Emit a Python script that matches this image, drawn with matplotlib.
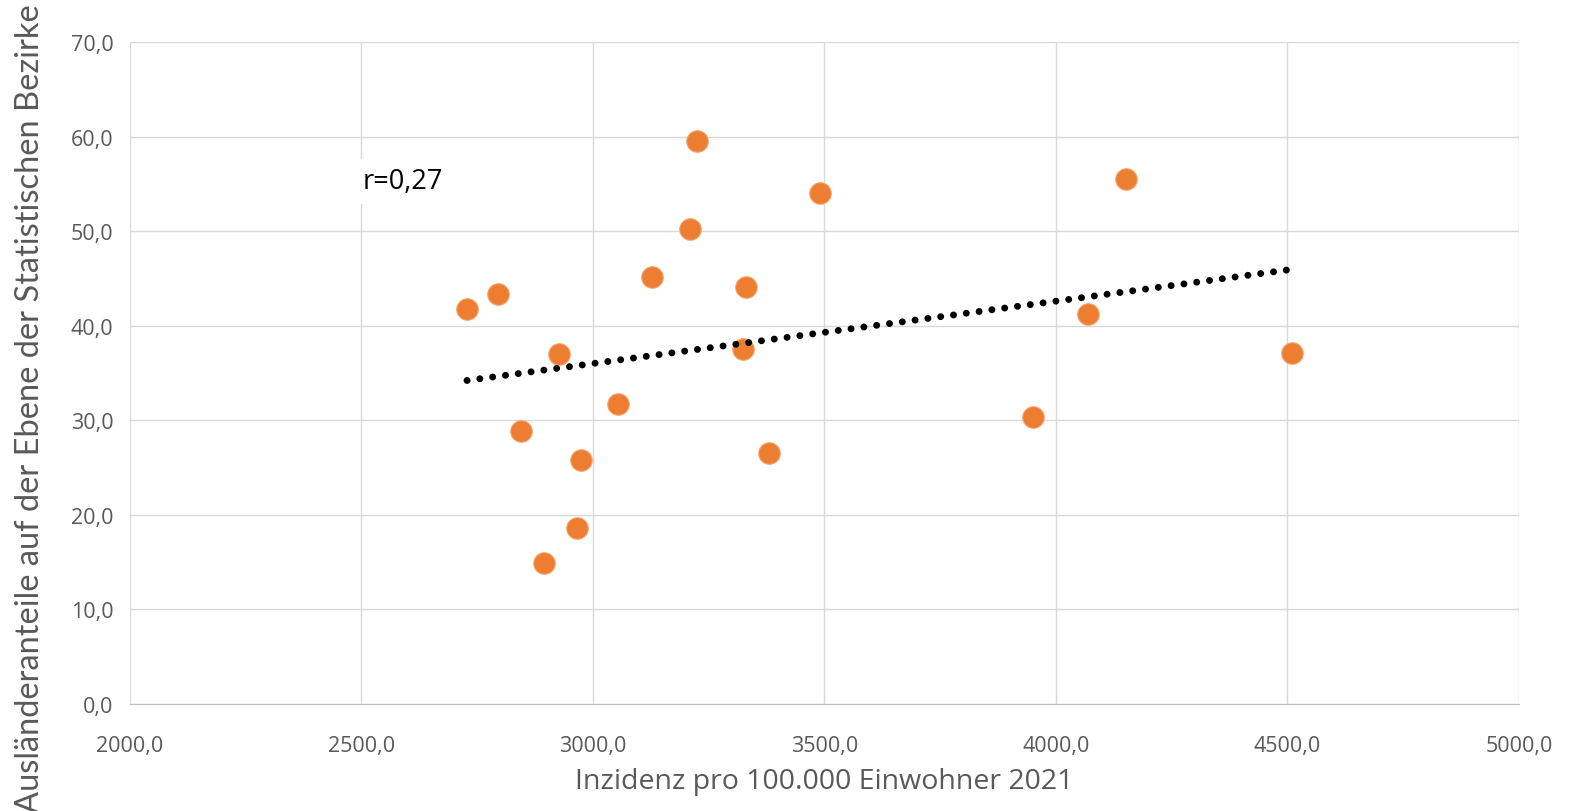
import numpy as np
import matplotlib.pyplot as plt

# Inzidenz pro 100.000 Einwohner 2021 vs. Ausländeranteil (Statistische Bezirke)
inzidenz = [2728, 2796, 2844, 2895, 2926, 2966, 2974, 3054, 3128, 3210,
            3224, 3323, 3331, 3380, 3491, 3950, 4069, 4152, 4509]
auslaender = [41.8, 43.4, 28.9, 14.9, 37.0, 18.6, 25.8, 31.7, 45.2, 50.2,
              59.6, 37.5, 44.1, 26.5, 54.0, 30.4, 41.3, 55.5, 37.1]

xticks = [2000, 2500, 3000, 3500, 4000, 4500, 5000]
yticks = [0, 10, 20, 30, 40, 50, 60, 70]

orange = '#ED7D31'
grid_col = '#D9D9D9'
tick_col = '#595959'

plt.rcParams['font.family'] = ['Open Sans', 'DejaVu Sans']

fig = plt.figure(figsize=(15.77, 8.12), dpi=100)
ax = fig.add_axes([0.0824, 0.1318, 0.8808, 0.815])

ax.scatter(inzidenz, auslaender, s=240, color=orange, edgecolors='#F4A470',
           linewidths=0.8, zorder=3)

# lineare Trendlinie
k, d = np.polyfit(inzidenz, auslaender, 1)
tx = np.array([min(inzidenz), max(inzidenz)])
ax.plot(tx, k*tx + d, color='black', lw=5, linestyle=(0, (0.01, 1.85)),
        dash_capstyle='round', zorder=4)

ax.text(2503, 55.3, 'r=0,27', fontsize=19.5, color='black', va='center', ha='left',
        bbox=dict(facecolor='white', edgecolor='none', pad=6), zorder=2)

ax.set_xlim(2000, 5000)
ax.set_ylim(0, 70)
ax.set_xticks(xticks)
ax.set_yticks(yticks)
ax.set_xticklabels([('%.1f' % v).replace('.', ',') for v in xticks])
ax.set_yticklabels([('%.1f' % v).replace('.', ',') for v in yticks])
ax.tick_params(length=0, labelsize=15.5, labelcolor=tick_col)
ax.tick_params(axis='x', pad=22)
ax.tick_params(axis='y', pad=12)

ax.grid(True, color=grid_col, lw=1)
ax.set_axisbelow(True)
for sp in ['top', 'right', 'left']:
    ax.spines[sp].set_visible(False)
ax.spines['bottom'].set_color('#BFBFBF')

ax.set_xlabel('Inzidenz pro 100.000 Einwohner 2021', fontsize=20.5, color=tick_col, labelpad=8)
fig.text(0.019, 0.497, 'Ausländeranteile auf der Ebene der Statistischen Bezirke',
         rotation=90, fontsize=23.5, color=tick_col, va='center', ha='center',
         family=['Lato', 'DejaVu Sans'])

fig.savefig('out.png', dpi=100)
